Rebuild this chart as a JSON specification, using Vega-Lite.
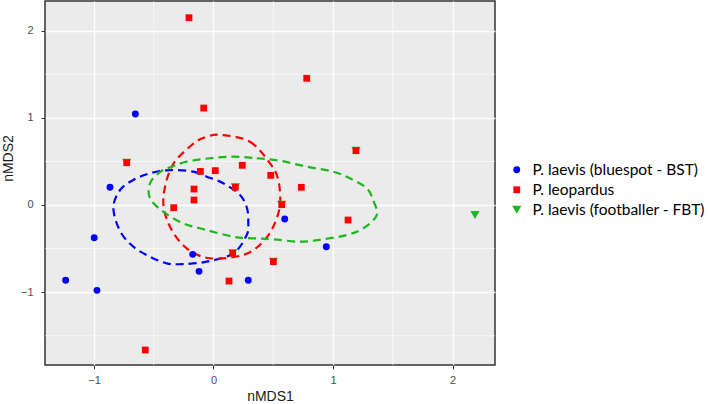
{
  "$schema": "https://vega.github.io/schema/vega-lite/v6.json",
  "width": 450,
  "height": 364,
  "autosize": {"type": "none"},
  "padding": {"left": 45, "top": 1, "right": 214, "bottom": 39},
  "background": "white",
  "config": {
    "view": {"fill": "#EBEBEB", "stroke": "#333333", "strokeWidth": 1.5},
    "axis": {
      "labelFont": "Liberation Sans",
      "labelFontSize": 11,
      "labelColor": "#4D4D4D",
      "titleFont": "Liberation Sans",
      "titleFontSize": 14,
      "titleFontWeight": "normal",
      "titleColor": "#1A1A1A",
      "tickColor": "#333333",
      "tickSize": 4,
      "domain": false,
      "gridColor": "#FFFFFF",
      "gridWidth": 1.3,
      "gridOpacity": 1
    }
  },
  "datasets": {
    "pts": [
      {"group": "P. laevis (footballer - FBT)", "x": -0.726, "y": 0.485},
      {"group": "P. laevis (footballer - FBT)", "x": 1.192, "y": 0.623},
      {"group": "P. laevis (footballer - FBT)", "x": 0.183, "y": 0.203},
      {"group": "P. laevis (footballer - FBT)", "x": 0.571, "y": 0.004},
      {"group": "P. laevis (footballer - FBT)", "x": 0.161, "y": -0.554},
      {"group": "P. laevis (footballer - FBT)", "x": 0.501, "y": -0.65},
      {"group": "P. laevis (footballer - FBT)", "x": 2.188, "y": -0.115},
      {"group": "P. laevis (bluespot - BST)", "x": -0.654, "y": 1.044},
      {"group": "P. laevis (bluespot - BST)", "x": -0.866, "y": 0.203},
      {"group": "P. laevis (bluespot - BST)", "x": 0.596, "y": -0.161},
      {"group": "P. laevis (bluespot - BST)", "x": -0.998, "y": -0.375},
      {"group": "P. laevis (bluespot - BST)", "x": 0.944, "y": -0.478},
      {"group": "P. laevis (bluespot - BST)", "x": -0.174, "y": -0.566},
      {"group": "P. laevis (bluespot - BST)", "x": -0.121, "y": -0.761},
      {"group": "P. laevis (bluespot - BST)", "x": -1.237, "y": -0.864},
      {"group": "P. laevis (bluespot - BST)", "x": 0.291, "y": -0.864},
      {"group": "P. laevis (bluespot - BST)", "x": -0.975, "y": -0.979},
      {"group": "P. leopardus", "x": -0.205, "y": 2.148},
      {"group": "P. leopardus", "x": 0.78, "y": 1.453},
      {"group": "P. leopardus", "x": -0.082, "y": 1.112},
      {"group": "P. leopardus", "x": -0.726, "y": 0.485},
      {"group": "P. leopardus", "x": 1.192, "y": 0.623},
      {"group": "P. leopardus", "x": -0.11, "y": 0.386},
      {"group": "P. leopardus", "x": 0.015, "y": 0.394},
      {"group": "P. leopardus", "x": 0.241, "y": 0.455},
      {"group": "P. leopardus", "x": 0.479, "y": 0.34},
      {"group": "P. leopardus", "x": 0.183, "y": 0.203},
      {"group": "P. leopardus", "x": 0.735, "y": 0.203},
      {"group": "P. leopardus", "x": -0.163, "y": 0.183},
      {"group": "P. leopardus", "x": -0.163, "y": 0.057},
      {"group": "P. leopardus", "x": 0.571, "y": 0.004},
      {"group": "P. leopardus", "x": -0.333, "y": -0.031},
      {"group": "P. leopardus", "x": 1.126, "y": -0.172},
      {"group": "P. leopardus", "x": 0.161, "y": -0.554},
      {"group": "P. leopardus", "x": 0.501, "y": -0.65},
      {"group": "P. leopardus", "x": 0.13, "y": -0.872},
      {"group": "P. leopardus", "x": -0.571, "y": -1.663}
    ],
    "ell": [
      {"g": "BST", "i": 1, "x": -0.364, "y": 0.401},
      {"g": "BST", "i": 2, "x": -0.169, "y": 0.382},
      {"g": "BST", "i": 3, "x": -0.057, "y": 0.325},
      {"g": "BST", "i": 4, "x": 0.082, "y": 0.249},
      {"g": "BST", "i": 5, "x": 0.222, "y": 0.115},
      {"g": "BST", "i": 6, "x": 0.28, "y": -0.034},
      {"g": "BST", "i": 7, "x": 0.291, "y": -0.195},
      {"g": "BST", "i": 8, "x": 0.278, "y": -0.344},
      {"g": "BST", "i": 9, "x": 0.166, "y": -0.554},
      {"g": "BST", "i": 10, "x": -0.057, "y": -0.65},
      {"g": "BST", "i": 11, "x": -0.253, "y": -0.677},
      {"g": "BST", "i": 12, "x": -0.392, "y": -0.669},
      {"g": "BST", "i": 13, "x": -0.531, "y": -0.593},
      {"g": "BST", "i": 14, "x": -0.671, "y": -0.478},
      {"g": "BST", "i": 15, "x": -0.782, "y": -0.298},
      {"g": "BST", "i": 16, "x": -0.838, "y": -0.034},
      {"g": "BST", "i": 17, "x": -0.782, "y": 0.172},
      {"g": "BST", "i": 18, "x": -0.671, "y": 0.287},
      {"g": "BST", "i": 19, "x": -0.531, "y": 0.364},
      {"g": "LEO", "i": 1, "x": 0.071, "y": 0.803},
      {"g": "LEO", "i": 2, "x": 0.305, "y": 0.726},
      {"g": "LEO", "i": 3, "x": 0.473, "y": 0.478},
      {"g": "LEO", "i": 4, "x": 0.542, "y": 0.287},
      {"g": "LEO", "i": 5, "x": 0.556, "y": 0.0},
      {"g": "LEO", "i": 6, "x": 0.5, "y": -0.249},
      {"g": "LEO", "i": 7, "x": 0.403, "y": -0.439},
      {"g": "LEO", "i": 8, "x": 0.249, "y": -0.573},
      {"g": "LEO", "i": 9, "x": -0.029, "y": -0.611},
      {"g": "LEO", "i": 10, "x": -0.224, "y": -0.497},
      {"g": "LEO", "i": 11, "x": -0.364, "y": -0.249},
      {"g": "LEO", "i": 12, "x": -0.42, "y": 0.057},
      {"g": "LEO", "i": 13, "x": -0.35, "y": 0.439},
      {"g": "LEO", "i": 14, "x": -0.182, "y": 0.688},
      {"g": "LEO", "i": 15, "x": -0.057, "y": 0.783},
      {"g": "FBT", "i": 1, "x": 0.166, "y": 0.554},
      {"g": "FBT", "i": 2, "x": 0.362, "y": 0.536},
      {"g": "FBT", "i": 3, "x": 0.556, "y": 0.508},
      {"g": "FBT", "i": 4, "x": 0.78, "y": 0.439},
      {"g": "FBT", "i": 5, "x": 1.003, "y": 0.382},
      {"g": "FBT", "i": 6, "x": 1.142, "y": 0.306},
      {"g": "FBT", "i": 7, "x": 1.282, "y": 0.192},
      {"g": "FBT", "i": 8, "x": 1.335, "y": 0.057},
      {"g": "FBT", "i": 9, "x": 1.366, "y": -0.115},
      {"g": "FBT", "i": 10, "x": 1.254, "y": -0.267},
      {"g": "FBT", "i": 11, "x": 1.115, "y": -0.344},
      {"g": "FBT", "i": 12, "x": 0.919, "y": -0.393},
      {"g": "FBT", "i": 13, "x": 0.724, "y": -0.421},
      {"g": "FBT", "i": 14, "x": 0.5, "y": -0.393},
      {"g": "FBT", "i": 15, "x": 0.333, "y": -0.382},
      {"g": "FBT", "i": 16, "x": 0.166, "y": -0.364},
      {"g": "FBT", "i": 17, "x": -0.057, "y": -0.287},
      {"g": "FBT", "i": 18, "x": -0.253, "y": -0.21},
      {"g": "FBT", "i": 19, "x": -0.42, "y": -0.077},
      {"g": "FBT", "i": 20, "x": -0.531, "y": 0.077},
      {"g": "FBT", "i": 21, "x": -0.531, "y": 0.249},
      {"g": "FBT", "i": 22, "x": -0.448, "y": 0.378},
      {"g": "FBT", "i": 23, "x": -0.35, "y": 0.439},
      {"g": "FBT", "i": 24, "x": -0.224, "y": 0.497},
      {"g": "FBT", "i": 25, "x": -0.029, "y": 0.536}
    ],
    "gridx": [{"v": -0.5}, {"v": 0.5}, {"v": 1.5}],
    "gridy": [{"v": -1.5}, {"v": -0.5}, {"v": 0.5}, {"v": 1.5}]
  },
  "encoding": {
    "x": {
      "field": "x", "type": "quantitative",
      "scale": {"domain": [-1.41, 2.3556], "nice": false, "zero": false},
      "axis": {"values": [-1, 0, 1, 2], "title": "nMDS1", "labelPadding": 5, "titlePadding": 4}
    },
    "y": {
      "field": "y", "type": "quantitative",
      "scale": {"domain": [-1.8349, 2.3394], "nice": false, "zero": false},
      "axis": {"values": [-1, 0, 1, 2], "title": "nMDS2", "labelPadding": 8, "titlePadding": 5, "titleY": 157}
    }
  },
  "layer": [
    {
      "data": {"name": "gridx"},
      "mark": {"type": "rule", "color": "#FFFFFF", "strokeWidth": 0.6},
      "encoding": {"x": {"field": "v", "type": "quantitative"}, "y": null}
    },
    {
      "data": {"name": "gridy"},
      "mark": {"type": "rule", "color": "#FFFFFF", "strokeWidth": 0.6},
      "encoding": {"y": {"field": "v", "type": "quantitative"}, "x": null}
    },
    {
      "data": {"name": "ell"},
      "mark": {"type": "line", "interpolate": "cardinal-closed", "strokeDash": [8, 5], "strokeWidth": 2.2},
      "encoding": {
        "stroke": {
          "field": "g", "type": "nominal",
          "scale": {"domain": ["BST", "LEO", "FBT"], "range": ["#0000FF", "#FF0000", "#1DB81D"]},
          "legend": null
        },
        "order": {"field": "i", "type": "quantitative"}
      }
    },
    {
      "data": {"name": "pts"},
      "mark": {"type": "point", "filled": true, "opacity": 1},
      "encoding": {
        "color": {
          "field": "group", "type": "nominal",
          "scale": {
            "domain": ["P. laevis (bluespot - BST)", "P. leopardus", "P. laevis (footballer - FBT)"],
            "range": ["#0000FF", "#FF0000", "#1DB81D"]
          },
          "legend": {
            "title": null,
            "orient": "none",
            "legendX": 464,
            "legendY": 161,
            "padding": 0,
            "labelFont": "Lato",
            "labelFontSize": 15.5,
            "labelColor": "#000000",
            "labelOffset": 8,
            "symbolSize": 30,
            "rowPadding": 3,
            "labelLimit": 300,
            "encode": {
              "labels": {
                "update": {
                  "fontStyle": {"signal": "datum.label == 'P. leopardus' ? 'italic' : 'normal'"}
                }
              }
            }
          }
        },
        "shape": {
          "field": "group", "type": "nominal",
          "scale": {
            "domain": ["P. laevis (bluespot - BST)", "P. leopardus", "P. laevis (footballer - FBT)"],
            "range": ["circle", "square", "triangle-down"]
          }
        },
        "size": {
          "field": "group", "type": "ordinal",
          "scale": {
            "type": "ordinal",
            "domain": ["P. laevis (bluespot - BST)", "P. leopardus", "P. laevis (footballer - FBT)"],
            "range": [48, 46, 85]
          },
          "legend": null
        }
      }
    }
  ]
}
